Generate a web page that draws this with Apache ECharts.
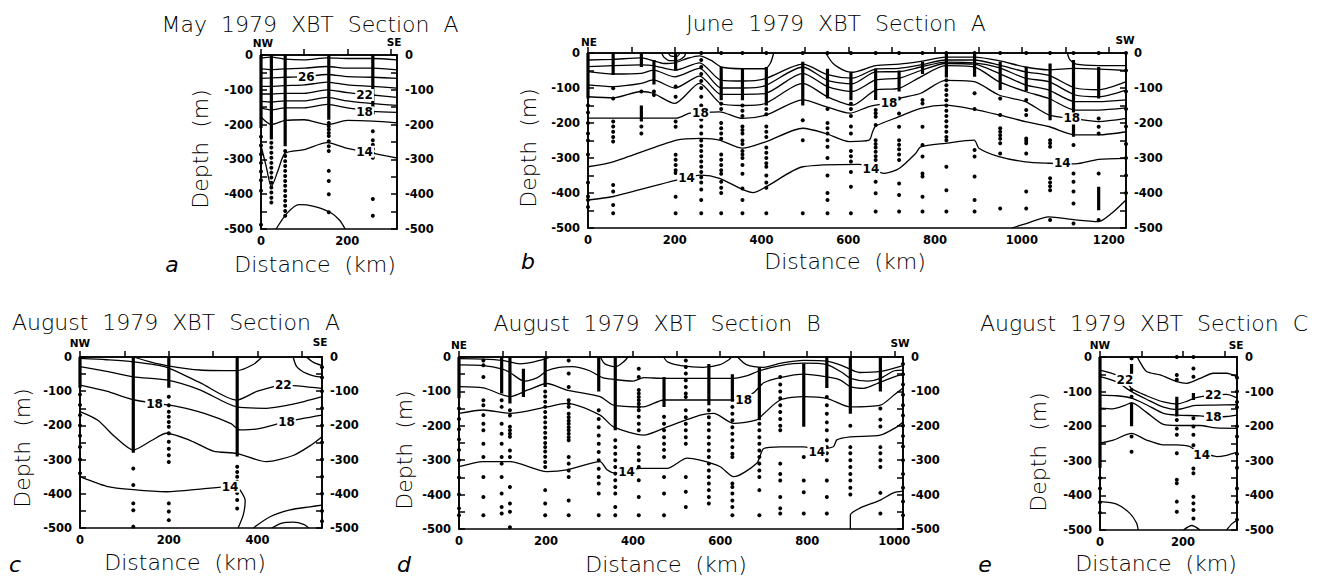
<!DOCTYPE html>
<html><head><meta charset="utf-8">
<script src="https://cdn.jsdelivr.net/npm/echarts/dist/echarts.min.js"></script>
<style>html,body{margin:0;padding:0;background:#fff}#c{width:1327px;height:577px}</style>
</head><body><div id="c"></div>
<script>
// ---------- DATA (distance km, depth m; contour depths negative) ----------
// Panel a: May 1979 Section A
const contoursA = [
 [[0,-8],[24,-6],[56,-12],[100,-14],[153,-8],[200,-10],[259,-10],[315,-14]],
 [[0,-40],[24,-42],[56,-40],[100,-38],[153,-33],[200,-38],[259,-38],[315,-43]],
 [[0,-67],[24,-66],[56,-64],[100,-62],[153,-56],[200,-62],[259,-64],[315,-67]],
 [[0,-90],[24,-90],[56,-88],[100,-86],[153,-78],[200,-86],[259,-90],[315,-95]],
 [[0,-112],[24,-112],[56,-110],[100,-110],[153,-100],[200,-108],[259,-115],[315,-122]],
 [[0,-133],[24,-135],[56,-132],[100,-132],[153,-122],[200,-132],[259,-140],[315,-145]],
 [[0,-152],[24,-158],[56,-152],[100,-152],[153,-142],[200,-152],[259,-162],[315,-165]],
 [[0,-178],[24,-200],[56,-188],[100,-186],[153,-200],[200,-188],[259,-190],[315,-195]],
 [[0,-260],[12,-320],[24,-378],[40,-330],[56,-282],[100,-272],[153,-252],[200,-268],[259,-282],[290,-290],[315,-296]],
 [[35,-500],[60,-455],[88,-430],[120,-434],[160,-452],[182,-475],[195,-500]]
];
const labelsA = [[105,-63,'26'],[240,-115,'22'],[240,-165,'18'],[240,-278,'14']];
const denseA = [[0,0,210],[24,0,243],[56,0,262],[157,0,186],[259,0,150]];
const dotsA = [[0,[235,260,285,310,335,360,390,488]],[24,[252,266,281,295,310,324,338,352,367,381,395,410,424]],[56,[276,290,305,319,333,348,362,376,390,405,419,433,448,462]],[157,[195,205,214,224,233,248,262,276,333,362,400,452]],[259,[167,219,245,258,270,282,295,414,462]]];

// Panel b: June 1979 Section A
const contoursB = [
 [[170,0],[175,-12],[190,-22],[210,-20],[222,-10],[225,0]],
 [[185,0],[190,-8],[205,-10],[212,0]],
 [[0,-20],[58,-18],[123,-14],[150,-22],[175,-30],[200,-28],[230,-15],[257,-8],[285,-22],[307,-40],[357,-45],[407,-45],[420,-30],[428,0]],
 [[548,0],[565,-30],[594,-52],[609,-55],[663,-36],[717,-32],[767,-24],[824,-12],[890,-12],[947,-22],[1008,-40],[1062,-48],[1119,-44],[1177,-46],[1240,-50]],
 [[1105,0],[1110,-18],[1125,-32],[1177,-36],[1240,-36]],
 [[0,-39],[58,-36],[123,-34],[150,-36],[200,-49],[257,-28],[307,-78],[357,-80],[407,-74],[495,-32],[552,-62],[609,-72],[663,-46],[717,-44],[767,-34],[824,-20],[890,-20],[947,-34],[1008,-54],[1062,-64],[1123,-100],[1177,-105],[1240,-82]],
 [[0,-53],[58,-60],[123,-58],[150,-49],[200,-68],[257,-44],[307,-100],[357,-100],[407,-94],[495,-40],[552,-78],[609,-88],[663,-54],[717,-53],[767,-40],[824,-26],[890,-28],[947,-42],[1008,-72],[1062,-82],[1123,-120],[1177,-125],[1240,-106]],
 [[0,-91],[58,-96],[123,-87],[150,-77],[200,-100],[257,-66],[307,-118],[357,-118],[407,-116],[495,-58],[552,-96],[609,-110],[663,-77],[717,-72],[767,-50],[824,-30],[890,-32],[947,-58],[1008,-91],[1062,-106],[1123,-139],[1177,-139],[1240,-134]],
 [[0,-125],[58,-128],[123,-110],[150,-115],[200,-144],[257,-87],[307,-145],[357,-150],[407,-145],[495,-87],[552,-125],[609,-149],[663,-106],[717,-101],[767,-68],[824,-36],[890,-40],[947,-82],[1008,-110],[1062,-130],[1123,-163],[1177,-163],[1240,-157]],
 [[0,-186],[58,-186],[120,-186],[204,-186],[234,-172],[259,-170],[303,-168],[356,-187],[411,-177],[495,-134],[548,-153],[603,-172],[648,-153],[694,-142],[717,-130],[767,-115],[824,-78],[890,-82],[947,-120],[1008,-139],[1062,-177],[1115,-187],[1177,-196],[1240,-187]],
 [[0,-325],[58,-311],[204,-249],[261,-244],[303,-249],[356,-272],[411,-253],[495,-215],[548,-230],[602,-253],[648,-249],[656,-225],[663,-209],[717,-182],[767,-158],[824,-149],[890,-161],[947,-177],[1008,-196],[1062,-210],[1123,-234],[1177,-234],[1240,-225]],
 [[0,-420],[58,-410],[204,-363],[261,-349],[303,-358],[380,-399],[411,-382],[495,-325],[625,-318],[683,-344],[717,-330],[755,-287],[767,-268],[824,-258],[890,-249],[901,-272],[947,-296],[1008,-311],[1062,-315],[1123,-317],[1177,-304],[1240,-301]],
 [[977,-500],[1008,-488],[1062,-468],[1123,-477],[1177,-482],[1207,-458],[1240,-420]]
];
const labelsB = [[259,-171,'18'],[694,-143,'18'],[1115,-187,'18'],[227,-358,'14'],[652,-330,'14'],[1093,-315,'14']];
const denseB = [[0,0,130],[58,0,63],[123,0,40],[123,150,196],[152,20,90],[202,0,50],[307,40,135],[356,45,135],[411,40,150],[495,25,150],[552,45,130],[606,55,135],[663,44,134],[717,50,110],[771,25,60],[826,0,70],[891,0,68],[950,25,106],[1010,39,110],[1065,30,192],[1119,20,239],[1177,40,130],[1177,382,449]];
const dotsB = [
 [0,[150,170,200,230,250,290,370,410,420,440]],
 [58,[101,130,196,210,225,240,253,377,396,434,458]],
 [123,[110,210,230]],
 [152,[110,120]],
 [202,[96,125,196,211,291,305,320,335,343,411,458]],
 [261,[0,20,40,60,80,100,125,150,170,190,210,230,250,265,280,295,310,325,340,355,370,390,420,458]],
 [307,[0,145,160,200,215,230,245,290,305,320,335,345,368,385,400,458]],
 [356,[0,150,165,180,210,220,230,250,260,280,290,300,320,345,387,420,458]],
 [411,[0,160,175,210,225,240,270,285,300,315,325,350,370,385,458]],
 [495,[0,192,249,458]],
 [552,[0,160,200,215,230,249,268,300,350,400,420,458]],
 [606,[0,145,160,180,210,230,280,295,310,340,382,458]],
 [663,[0,163,172,182,206,249,260,270,282,295,306,368,401,453]],
 [717,[0,130,173,211,249,262,275,290,306,373,406,453]],
 [771,[0,134,144,211,263,296,344,353,411,453]],
 [826,[0,78,92,106,120,135,150,165,180,195,210,225,240,249,325,392,453]],
 [891,[0,115,160,277,296,353,420,453]],
 [950,[0,130,177,215,225,235,245,258,287,444]],
 [1010,[0,134,163,177,244,251,258,287,396,444]],
 [1065,[0,249,258,268,358,370,381,392,477]],
 [1119,[0,263,344,368,396,430,487]],
 [1177,[0,187,211,230,344,477]],
 [1240,[0,50,110,160,210,260,300,350,400]]
];

// Panel c: August 1979 Section A
const contoursC = [
 [[120,0],[160,-15],[195,-25],[270,-38],[353,-40],[390,-22],[410,0]],
 [[0,-4],[60,-8],[120,-14],[195,-30],[270,-75],[353,-126],[400,-100],[458,-82],[545,-92]],
 [[0,-28],[60,-42],[120,-58],[195,-67],[270,-96],[353,-146],[420,-150],[480,-138],[545,-116]],
 [[0,-82],[60,-100],[120,-125],[173,-136],[220,-145],[280,-165],[340,-195],[360,-213],[400,-210],[465,-189],[545,-170]],
 [[0,-160],[40,-185],[80,-235],[120,-272],[160,-245],[195,-223],[250,-245],[300,-275],[353,-282],[420,-306],[480,-288],[520,-258],[545,-233]],
 [[0,-350],[60,-378],[120,-388],[195,-394],[280,-385],[325,-380]],
 [[360,-388],[372,-420],[368,-460],[356,-500]],
 [[390,-500],[428,-467],[473,-447],[518,-438],[545,-433]],
 [[432,-500],[455,-486],[480,-483],[505,-490],[515,-500]],
 [[480,0],[488,-28],[510,-48],[540,-58],[545,-58]],
 [[510,0],[525,-15],[545,-25]]
];
const labelsC = [[458,-82,'22'],[168,-136,'18'],[465,-189,'18'],[338,-379,'14']];
const denseC = [[0,0,90],[120,0,280],[200,0,90],[354,0,291]];
const dotsC = [
 [0,[110,140,170,200,230,263,300,340]],
 [120,[326,374,428,448,496]],
 [200,[116,141,160,175,190,204,223,248,268,287,307,428,452,477]],
 [354,[321,336,350,365,379,398,418,443]],
 [545,[30,60,100,150,200,250,300,350,400,450,480]]
];

// Panel d: August 1979 Section B
const contoursD = [
 [[0,-5],[56,-6],[100,-10],[140,-20],[170,-15],[200,-5],[212,0]],
 [[325,0],[335,-20],[360,-28],[380,-12],[388,0]],
 [[470,0],[480,-15],[510,-25],[560,-30],[600,-22],[620,-8],[626,0]],
 [[640,0],[660,-22],[700,-30],[740,-18],[792,-10],[845,-12],[880,-25],[920,-45],[968,-42],[1020,-25]],
 [[0,-23],[56,-25],[100,-35],[117,-45],[150,-70],[180,-60],[202,-40],[230,-30],[260,-28],[300,-40],[330,-60],[355,-65],[400,-70],[424,-60],[470,-62],[550,-62],[631,-62],[660,-55],[690,-40],[738,-25],[792,-18],[845,-22],[880,-45],[899,-62],[940,-70],[968,-62],[1000,-40],[1020,-38]],
 [[0,-86],[56,-90],[100,-110],[117,-115],[160,-95],[202,-77],[248,-96],[324,-115],[355,-140],[424,-145],[470,-125],[550,-125],[631,-125],[654,-124],[680,-100],[700,-75],[738,-60],[792,-50],[845,-58],[876,-67],[899,-86],[930,-91],[961,-77],[1006,-55],[1020,-52]],
 [[0,-164],[56,-154],[117,-164],[202,-145],[248,-135],[324,-169],[355,-203],[424,-227],[478,-203],[554,-169],[585,-164],[631,-193],[684,-183],[700,-165],[738,-125],[792,-115],[845,-120],[899,-145],[968,-140],[1000,-110],[1020,-90]],
 [[0,-319],[56,-304],[117,-304],[202,-333],[248,-328],[324,-304],[340,-328],[360,-338],[416,-324],[478,-324],[524,-294],[554,-300],[600,-319],[631,-348],[684,-309],[700,-266],[738,-261],[792,-261],[822,-268],[860,-261],[868,-241],[899,-232],[968,-227],[1006,-203],[1020,-189]],
 [[899,-500],[899,-460],[920,-440],[968,-416],[998,-395],[1020,-390]]
];
const labelsD = [[654,-125,'18'],[385,-333,'14'],[822,-275,'14']];
const denseD = [[0,0,120],[98,0,106],[117,0,135],[148,34,116],[198,0,87],[321,0,100],[359,0,213],[471,58,145],[574,20,140],[628,50,130],[690,29,184],[792,19,203],[845,0,90],[899,0,165],[968,0,100]];
const dotsD = [
 [0,[150,180,210,240,270,300,350,400,440,460]],
 [56,[10,24,58,126,140,169,194,213,252,291,349,407,460]],
 [98,[126,145,194,223,252,291,310,349,397,436,455]],
 [117,[155,170,203,213,223,232,272,291,378,426,450,495]],
 [198,[100,115,130,145,160,175,190,205,220,235,250,262,275,290,305,320,387,426,460]],
 [252,[10,48,87,126,136,145,165,175,185,194,204,213,223,233,242,291,310,330,349,417,460]],
 [321,[155,180,204,228,252,276,300,325,349,368,397,460]],
 [359,[242,262,281,300,320,339,358,378,397,436,460]],
 [413,[34,58,96,106,116,126,136,145,155,174,194,213,262,281,300,320,358,407,460]],
 [471,[174,194,213,233,252,270,291,349,397,460]],
 [521,[10,29,48,68,87,106,116,155,175,194,213,233,252,349,392,436]],
 [574,[155,175,194,213,233,252,272,291,310,330,349,368,387,407,426]],
 [628,[145,165,184,204,223,242,262,281,291,368,378,397,417,436,460]],
 [690,[194,213,233,252,272,291,310,330,349,387,460]],
 [738,[58,80,100,120,140,160,180,200,213,310,340,359,407,440,455]],
 [792,[291,359,393,455]],
 [845,[116,140,165,190,213,242,262,280,300,359,407,455]],
 [899,[200,262,280,300,320,340,359,380,400]],
 [968,[150,182,202,262,280,300,320,395,455]],
 [1020,[20,50,80,110,140,170,200,230,260,300,340,380,420,460]]
];

// Panel e: August 1979 Section C
const contoursE = [
 [[90,0],[95,-12],[112,-42],[145,-52],[185,-71],[209,-76],[241,-62],[273,-47],[305,-47],[330,-57]],
 [[0,-38],[40,-52],[60,-66],[76,-91],[112,-112],[153,-130],[185,-136],[209,-128],[229,-118],[273,-110],[305,-108],[330,-118]],
 [[0,-57],[40,-72],[76,-100],[112,-122],[153,-145],[185,-152],[230,-140],[273,-139],[330,-138]],
 [[0,-110],[40,-112],[76,-119],[112,-138],[153,-163],[185,-168],[241,-170],[273,-174],[305,-172],[330,-168]],
 [[0,-148],[30,-150],[60,-140],[76,-132],[112,-160],[153,-195],[185,-198],[241,-198],[280,-205],[330,-206]],
 [[0,-249],[32,-240],[76,-221],[112,-240],[153,-254],[185,-254],[217,-259],[233,-274],[260,-282],[281,-288],[305,-284],[330,-275]],
 [[0,-418],[40,-425],[72,-452],[88,-480],[92,-500]],
 [[201,-500],[221,-487],[241,-500]],
 [[305,-500],[317,-483],[330,-472]]
];
const labelsE = [[60,-66,'22'],[273,-110,'22'],[273,-174,'18'],[245,-283,'14']];
const denseE = [[0,0,320],[76,20,75],[76,133,200],[185,115,172],[225,104,124]];
const dotsE = [
 [0,[350,380,420,450]],
 [76,[4,95,115,230,274]],
 [185,[0,52,66,182,207,225,278,355,365,418,447]],
 [225,[0,33,57,177,201,225,255,322,336,404,423,442,467]],
 [330,[60,100,130,145,200,230,280,320,380,420,470]]
];

// ---------- LAYOUT ----------
const panels = [
 {box:{left:261,top:55,width:136,height:174}, xmax:315, contours:contoursA, labels:labelsA, dense:denseA, dots:dotsA},
 {box:{left:588,top:53,width:538,height:175}, xmax:1240, contours:contoursB, labels:labelsB, dense:denseB, dots:dotsB},
 {box:{left:80,top:357,width:242,height:171}, xmax:545, contours:contoursC, labels:labelsC, dense:denseC, dots:dotsC},
 {box:{left:459,top:357,width:444,height:172}, xmax:1020, contours:contoursD, labels:labelsD, dense:denseD, dots:dotsD},
 {box:{left:1100,top:357,width:137,height:173}, xmax:330, contours:contoursE, labels:labelsE, dense:denseE, dots:dotsE}
];

const tickFont = {color:'#000', fontFamily:'DejaVu Sans', fontWeight:'bold', fontSize:11.5};
const grids=[], xAxes=[], yAxes=[], series=[];
panels.forEach((p,i)=>{
  grids.push(Object.assign({show:true, borderColor:'#000', borderWidth:1.6, backgroundColor:'transparent'}, p.box));
  xAxes.push({gridIndex:i, type:'value', min:0, max:p.xmax, interval:100,
    axisLine:{lineStyle:{color:'#000',width:1.6}}, axisTick:{inside:true,length:6,lineStyle:{color:'#000',width:1.5}},
    axisLabel:Object.assign({margin:6, showMaxLabel:false, formatter:v=> (v%200===0? String(v):'')}, tickFont), splitLine:{show:false}});
  ['left','right'].forEach(pos=>{
    yAxes.push({gridIndex:i, type:'value', position:pos, min:-500, max:0, interval:50,
      axisLine:{show:true,lineStyle:{color:'#000',width:1.6}}, axisTick:{show:true,inside:true,length:6,lineStyle:{color:'#000',width:1.5}},
      axisLabel:Object.assign({margin:8, formatter:v=> (v%100===0? String(v):'')}, tickFont), splitLine:{show:false}});
  });
  p.contours.forEach(c=>series.push({type:'line', xAxisIndex:i, yAxisIndex:2*i, data:c, showSymbol:false, smooth:0.25, silent:true,
    lineStyle:{color:'#000',width:1.3}, z:2, animation:false}));
  p.dense.forEach(b=>series.push({type:'line', xAxisIndex:i, yAxisIndex:2*i, data:[[b[0],-b[1]],[b[0],-b[2]]], showSymbol:false, silent:true,
    lineStyle:{color:'#000',width:3.2}, z:3, animation:false}));
  const pts=[]; p.dots.forEach(s=>s[1].forEach(dep=>pts.push([s[0],-dep])));
  series.push({type:'scatter', xAxisIndex:i, yAxisIndex:2*i, data:pts, symbol:'circle', symbolSize:4, itemStyle:{color:'#000', opacity:1}, silent:true, z:3, animation:false});
  series.push({type:'scatter', xAxisIndex:i, yAxisIndex:2*i, symbolSize:0, silent:true, z:6, animation:false,
    itemStyle:{opacity:1},
    data:p.labels.map(l=>({value:[l[0],l[1]], name:l[2]})),
    label:{show:true, position:'inside', formatter:'{b}', color:'#000', opacity:1, fontFamily:'DejaVu Sans', fontSize:12, fontWeight:'bold', backgroundColor:'#fff', padding:[0,1]}});
});

// ---------- TEXT ----------
const T = (text,x,y,font,rot)=>({type:'text', x:x, y:y, rotation:rot||0, z:10,
  style:{text:text, x:0, y:0, font:font, textAlign:'center', textVerticalAlign:'middle', fill:'#000'}});
const tf='200 22px "DejaVu Sans"', df='bold 10.5px "DejaVu Sans"', lf='italic 22px "DejaVu Sans"';
const graphics = [
 T('May  1979  XBT  Section  A',310,24,tf), T('June  1979  XBT  Section  A',836,23,tf),
 T('August  1979  XBT  Section  A',176,322,tf), T('August  1979  XBT  Section  B',657,323,tf), T('August  1979  XBT  Section  C',1144,323,tf),
 T('NW',263,43,df), T('SE',394,42,df), T('NE',589,42,df), T('SW',1125,40,df),
 T('NW',80,343,df), T('SE',320,342,df), T('NE',459,345,df), T('SW',900,343,df), T('NW',1100,345,df), T('SE',1236,345,df),
 T('Distance  (km)',315,264,tf), T('Distance  (km)',845,261,tf), T('Distance  (km)',185,562,tf), T('Distance  (km)',666,564,tf), T('Distance  (km)',1156,563,tf),
 T('Depth  (m)',200,149,tf,Math.PI/2), T('Depth  (m)',528,148,tf,Math.PI/2), T('Depth  (m)',22,448,tf,Math.PI/2), T('Depth  (m)',404,450,tf,Math.PI/2), T('Depth  (m)',1038,452,tf,Math.PI/2),
 T('a',172,264,lf), T('b',528,261,lf), T('c',15,564,lf), T('d',404,564,lf), T('e',985,564,lf)
];

const chart = echarts.init(document.getElementById('c'), null, {renderer:'svg'});
chart.setOption({animation:false, backgroundColor:'#fff', grid:grids, xAxis:xAxes, yAxis:yAxes, series:series, graphic:graphics});
</script></body></html>
